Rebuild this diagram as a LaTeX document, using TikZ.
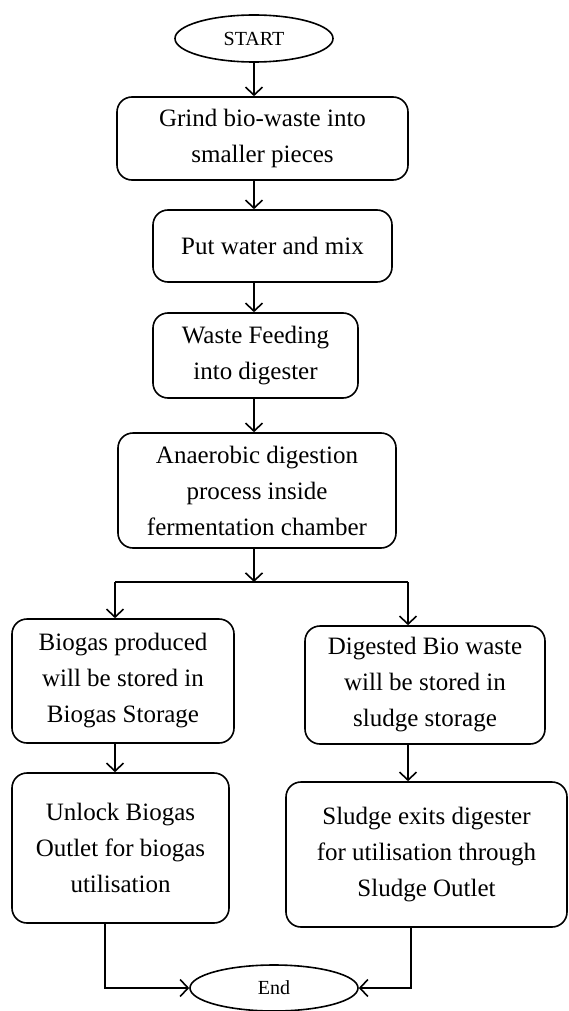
\documentclass[tikz,border=0pt]{standalone}
\usepackage{fontspec}
\setmainfont{Liberation Serif}
\usepackage{tikz}
\usetikzlibrary{shapes.geometric,arrows.meta}
\tikzstyle{procbox}=[rectangle,rounded corners=15pt,draw,line width=1.6pt,inner sep=0pt,align=center,font=\fontsize{25}{36}\selectfont]
\tikzstyle{terminal}=[ellipse,draw,line width=1.6pt,inner sep=0pt,font=\fontsize{20}{24}\selectfont]
\tikzstyle{flow}=[line width=1.6pt,-{Straight Barb[length=8pt,width=17pt]}]
\tikzstyle{wire}=[line width=1.6pt]

\begin{document}
\begin{tikzpicture}[x=1pt,y=-1pt]
        \useasboundingbox (0,0) rectangle (568,1011);
        \node[terminal,minimum width=158pt,minimum height=47pt] (start) at (254,38.5) {START};
        \node[procbox,minimum width=291pt,minimum height=83pt] (grind) at (262.5,138.5) {Grind bio-waste into\\smaller pieces};
        \node[procbox,minimum width=239pt,minimum height=72pt] (water) at (272.5,246) {Put water and mix};
        \node[procbox,minimum width=205pt,minimum height=85pt] (feed) at (255.5,355.5) {Waste Feeding\\into digester};
        \node[procbox,minimum width=278pt,minimum height=115pt] (anaer) at (257,490.5) {Anaerobic digestion\\process inside\\fermentation chamber};
        \node[procbox,minimum width=222pt,minimum height=124pt] (biogas) at (123,681) {Biogas produced\\will be stored in\\Biogas Storage};
        \node[procbox,minimum width=240pt,minimum height=118pt] (digest) at (425,685) {Digested Bio waste\\will be stored in\\sludge storage};
        \node[procbox,minimum width=217pt,minimum height=150pt] (unlock) at (120.5,848) {Unlock Biogas\\Outlet for biogas\\utilisation};
        \node[procbox,minimum width=281pt,minimum height=145pt] (sludge) at (426.5,854.5) {Sludge exits digester\\for utilisation through\\Sludge Outlet};
        \node[terminal,minimum width=168pt,minimum height=46pt] (stop) at (274,988) {End};
        \coordinate (split) at (254,582);
        \coordinate (splitL) at (115,582);
        \coordinate (splitR) at (408,582);
        \draw[flow] (start.south) -- (start.south |- grind.north);
        \draw[flow] (grind.south -| start) -- (water.north -| start);
        \draw[flow] (water.south -| start) -- (feed.north -| start);
        \draw[flow] (feed.south -| start) -- (anaer.north -| start);
        \draw[flow] (anaer.south -| split) -- (split);
        \draw[wire] (splitL) -- (splitR);
        \draw[flow] (splitL) -- (splitL |- biogas.north);
        \draw[flow] (splitR) -- (splitR |- digest.north);
        \draw[flow] (biogas.south -| splitL) -- (unlock.north -| splitL);
        \draw[flow] (digest.south -| splitR) -- (sludge.north -| splitR);
        \draw[flow] ([xshift=-15.5pt]unlock.south) |- (stop.west);
        \draw[flow] ([xshift=-15.5pt]sludge.south) |- (stop.east);
\end{tikzpicture}
\end{document}
